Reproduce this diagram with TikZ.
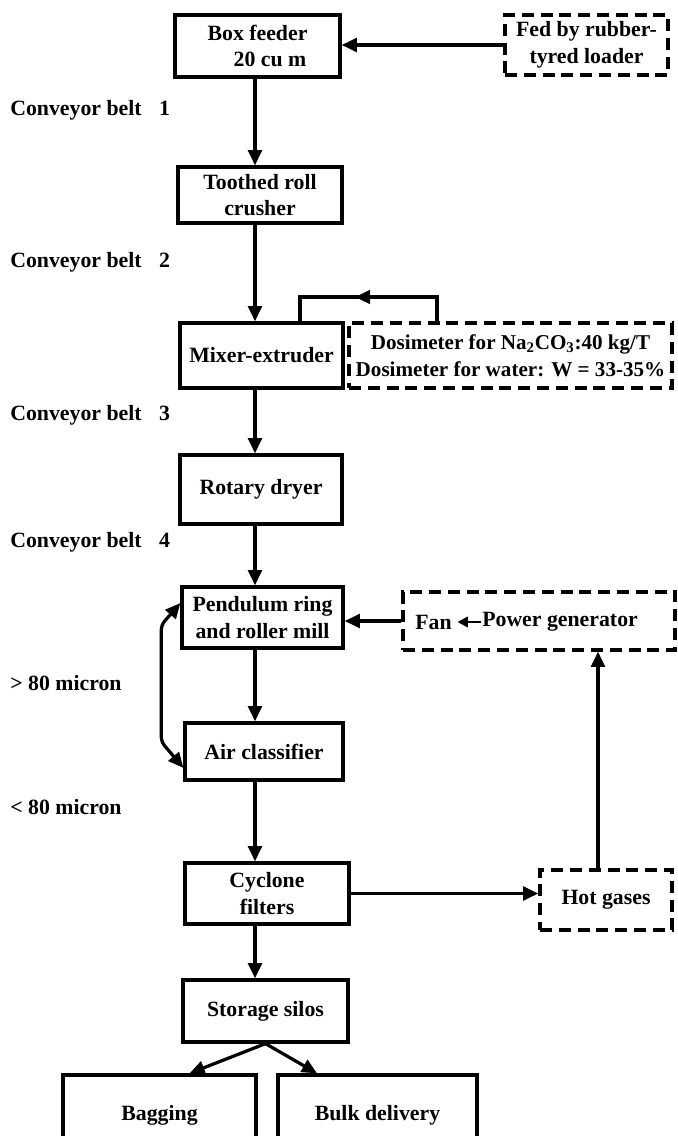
\documentclass[tikz,border=0pt]{standalone}
\usepackage{fontspec}
\setmainfont{Liberation Serif}
\usetikzlibrary{arrows.meta}
\tikzset{
  unitbox/.style={
    draw,
    line width=2.3pt,
    align=center,
    inner sep=2pt,
    font=\fontsize{15.5}{19}\selectfont\bfseries
  },
  dashbox/.style={
    unitbox,
    dash pattern=on 0.3cm off 0.17cm
  },
  sidelabel/.style={
    anchor=west,
    inner sep=0pt,
    font=\fontsize{15.5}{19}\selectfont\bfseries
  },
  plainline/.style={
    draw,
    line width=2.3pt
  },
  flowline/.style={
    draw,
    line width=2.3pt,
    -{Triangle[length=3.8mm,width=3.4mm]}
  },
  smallflow/.style={
    draw,
    line width=1.8pt,
    -{Triangle[length=2.6mm,width=2.6mm]}
  }
}
\begin{document}
\begin{tikzpicture}[x=0.025cm,y=-0.025cm]
  \useasboundingbox (0,0) rectangle (677,1136);
  % main column
  \node[unitbox, minimum width=4.125cm, minimum height=1.55cm, align=left] (feeder) at (257.5,46) {Box feeder\\\hspace*{1.2em}20 cu m};
  \node[dashbox, minimum width=4.075cm, minimum height=1.5cm] (loader) at (586.5,45) {Fed by rubber-\\tyred loader};
  \node[unitbox, minimum width=4.1cm, minimum height=1.4cm] (crusher) at (260,195) {Toothed roll\\crusher};
  \node[unitbox, minimum width=4.075cm, minimum height=1.625cm] (mixer) at (261.5,355.5) {Mixer-extruder};
  \node[dashbox, minimum width=8.075cm, minimum height=1.625cm, font=\fontsize{15}{19}\selectfont\bfseries] (dosimeter) at (510.5,355.5) {Dosimeter for Na\textsubscript{2}CO\textsubscript{3}:40 kg/T\\Dosimeter for water: W = 33-35\%};
  \node[unitbox, minimum width=4.05cm, minimum height=1.725cm] (dryer) at (261,489.5) {Rotary dryer};
  \node[unitbox, minimum width=4.025cm, minimum height=1.525cm] (mill) at (262.5,617.5) {Pendulum ring\\and roller mill};
  \node[dashbox, minimum width=6.8cm, minimum height=1.45cm] (fanbox) at (539,621) {};
  \node[sidelabel] (fan) at (415,622) {Fan};
  \node[sidelabel] (gen) at (482,622) {Power generator};
  \node[unitbox, minimum width=3.95cm, minimum height=1.425cm] (clf) at (264,751.5) {Air classifier};
  \node[unitbox, minimum width=4.1cm, minimum height=1.525cm] (cyclone) at (267,893.5) {Cyclone\\filters};
  \node[dashbox, minimum width=3.3cm, minimum height=1.5cm] (hotgas) at (606,900) {Hot gases};
  \node[unitbox, minimum width=4.125cm, minimum height=1.55cm] (silos) at (265.5,1011) {Storage silos};
  \node[unitbox, minimum width=4.825cm, minimum height=2cm] (bagging) at (159.5,1115) {Bagging};
  \node[unitbox, minimum width=4.975cm, minimum height=2cm] (bulk) at (377.5,1115) {Bulk delivery};
  % labels on the left
  \node[sidelabel] (belt1) at (10,110) {Conveyor belt\hspace{0.8em}1};
  \node[sidelabel] (belt2) at (10,262) {Conveyor belt\hspace{0.8em}2};
  \node[sidelabel] (belt3) at (10,415) {Conveyor belt\hspace{0.8em}3};
  \node[sidelabel] (belt4) at (10,542) {Conveyor belt\hspace{0.8em}4};
  \node[sidelabel] (coarse) at (10,683) {> 80 micron};
  \node[sidelabel] (fine) at (10,807) {< 80 micron};
  % connectors
  \draw[flowline] (loader.west) -- (loader.west -| feeder.east);
  \foreach \from/\to in {feeder/crusher,crusher/mixer,mixer/dryer,dryer/mill,mill/clf,clf/cyclone,cyclone/silos}
    {\draw[flowline] (\from.south -| 255,0) -- (\to.north -| 255,0);}
  \coordinate (fbr) at (437,297);
  \coordinate (fbl) at (300,297);
  \draw[plainline] (dosimeter.north -| fbr) -- (fbr) -- (fbl) -- (mixer.north -| fbl);
  \draw[flowline] (fbr) -- ++(-82,0);
  \draw[flowline] (fanbox.west) -- (fanbox.west -| mill.east);
  \draw[smallflow] ([xshift=-1pt]gen.west) -- ([xshift=4pt]fan.east);
  \draw[flowline] (cyclone.east) -- (cyclone.east -| hotgas.west);
  \draw[flowline] (hotgas.north -| 598,0) -- (fanbox.south -| 598,0);
  \draw[flowline, {Triangle[length=3.8mm,width=3.4mm]}-{Triangle[length=3.8mm,width=3.4mm]}, rounded corners=3pt]
    ([yshift=-0.41cm]clf.west) -- ++(-22,-26) -- ++(0,-117) -- ([yshift=0.36cm]mill.west);
  \draw[flowline] (silos.south) -- ([xshift=0.75cm]bagging.north);
  \draw[flowline] (silos.south) -- ([xshift=-1.51cm]bulk.north);
\end{tikzpicture}
\end{document}
